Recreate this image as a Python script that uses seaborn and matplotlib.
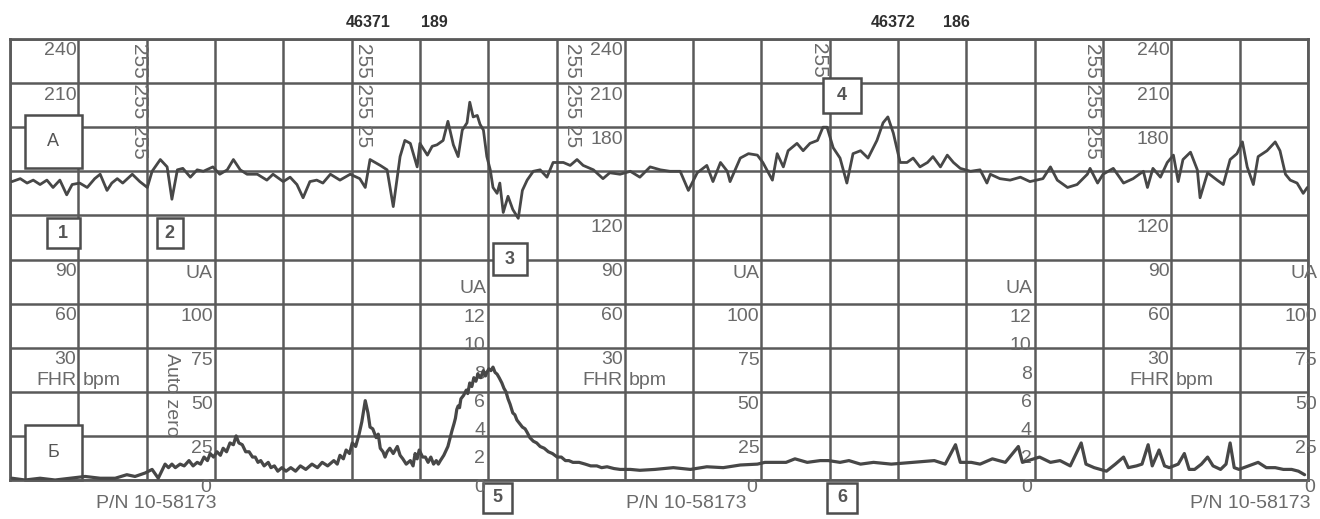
import numpy as np
import pandas as pd
import matplotlib
matplotlib.use("Agg")
import matplotlib.pyplot as plt
from matplotlib.patches import Rectangle
from matplotlib.transforms import offset_copy
import seaborn as sns

# ---------------- data ----------------
# time in chart columns (1 column = 1 min)
fhr_time = [0.03, 0.15, 0.25, 0.34, 0.44, 0.54, 0.63, 0.73, 0.83, 0.91, 1.02, 1.13, 1.24, 1.32, 1.42,
            1.49, 1.57, 1.65, 1.79, 1.90, 2.01, 2.08, 2.20, 2.30, 2.37, 2.45, 2.53, 2.64, 2.74, 2.83,
            2.97, 3.07, 3.18, 3.27, 3.37, 3.47, 3.62, 3.76, 3.85, 4.00, 4.10, 4.20, 4.29, 4.39, 4.49,
            4.58, 4.69, 4.83, 4.98, 5.12, 5.20, 5.27, 5.42, 5.52, 5.61, 5.71, 5.78, 5.86, 5.96, 6.00,
            6.11, 6.18, 6.25, 6.34, 6.41, 6.49, 6.56, 6.62, 6.69, 6.73, 6.78, 6.84, 6.88, 6.93, 6.98,
            7.03, 7.07, 7.13, 7.17, 7.22, 7.29, 7.36, 7.44, 7.50, 7.57, 7.66, 7.76, 7.86, 7.95, 8.10,
            8.20, 8.30, 8.39, 8.54, 8.68, 8.78, 8.93, 9.08, 9.22, 9.37, 9.52, 9.66, 9.81, 9.93, 10.06,
            10.20, 10.29, 10.40, 10.50, 10.54, 10.69, 10.81, 10.94, 11.02, 11.16, 11.23, 11.32, 11.39,
            11.52, 11.61, 11.71, 11.82, 11.90, 11.96, 12.05, 12.15, 12.25, 12.34, 12.45, 12.56, 12.69,
            12.78, 12.85, 12.93, 13.03, 13.13, 13.22, 13.32, 13.43, 13.51, 13.62, 13.72, 13.81, 13.91,
            14.06, 14.20, 14.30, 14.35, 14.49, 14.64, 14.79, 14.93, 15.12, 15.23, 15.33, 15.48, 15.62,
            15.77, 15.81, 15.92, 16.00, 16.15, 16.30, 16.44, 16.59, 16.65, 16.73, 16.84, 16.94, 17.03,
            17.10, 17.17, 17.28, 17.38, 17.42, 17.53, 17.67, 17.76, 17.86, 17.96, 18.04, 18.11, 18.20,
            18.27, 18.40, 18.52, 18.59, 18.67, 18.74, 18.84, 18.93, 18.99]
fhr_bpm = [143, 145, 142, 144, 141, 144, 139, 144, 134, 141, 142, 139, 145, 148, 137,
           142, 145, 142, 148, 143, 139, 150, 158, 153, 131, 151, 152, 146, 151, 150,
           153, 148, 151, 158, 151, 148, 148, 144, 148, 143, 146, 141, 132, 143, 144,
           142, 148, 144, 148, 145, 139, 158, 154, 151, 126, 160, 171, 169, 153, 169,
           161, 167, 168, 171, 184, 168, 160, 178, 183, 197, 187, 188, 182, 178, 160,
           151, 139, 135, 142, 122, 133, 124, 118, 137, 144, 150, 151, 146, 156, 156,
           154, 158, 154, 151, 145, 149, 148, 150, 146, 153, 151, 150, 150, 137, 149,
           154, 143, 156, 150, 143, 159, 162, 161, 156, 144, 162, 153, 164,
           169, 164, 169, 171, 180, 180, 166, 159, 142, 162, 164, 159, 171,
           183, 187, 176, 156, 156, 159, 153, 156, 160, 153, 161, 156, 152,
           150, 151, 142, 148, 145, 144, 146, 143, 145, 153, 144, 139, 141,
           148, 152, 142, 148, 152, 142, 145, 150, 139, 152, 146, 156, 161,
           143, 158, 163, 151, 132, 149, 144, 141, 158, 162, 170, 153, 141,
           160, 164, 170, 164, 148, 144, 142, 135, 139]

ua_time = [0.03, 0.22, 0.44, 0.66, 0.88, 1.10, 1.32, 1.54, 1.71, 1.83, 1.98, 2.08, 2.17,
           2.27, 2.32, 2.37, 2.42, 2.49, 2.55, 2.62, 2.68, 2.74, 2.79, 2.84, 2.89, 2.93, 2.98,
           3.03, 3.08, 3.12, 3.17, 3.22, 3.27, 3.31, 3.35, 3.40, 3.45, 3.50, 3.55, 3.59, 3.63,
           3.67, 3.72, 3.78, 3.82, 3.87, 3.92, 3.98, 4.04, 4.11, 4.18, 4.25, 4.33, 4.42, 4.50,
           4.57, 4.65, 4.74, 4.79, 4.83, 4.88, 4.92, 4.97, 5.01, 5.06, 5.11, 5.15, 5.20, 5.24,
           5.27, 5.31, 5.36, 5.39, 5.42, 5.46, 5.49, 5.52, 5.56, 5.61, 5.67, 5.71, 5.75, 5.80,
           5.86, 5.90, 5.93, 5.96, 5.99, 6.04, 6.08, 6.12, 6.16, 6.20, 6.24, 6.27, 6.30, 6.35,
           6.41, 6.47, 6.50, 6.52, 6.54, 6.56, 6.58, 6.60, 6.64, 6.68, 6.70, 6.73, 6.76, 6.79,
           6.82, 6.85, 6.89, 6.93, 6.96, 6.98, 7.01, 7.04, 7.07, 7.10, 7.13, 7.16, 7.20, 7.23,
           7.26, 7.29, 7.32, 7.36, 7.39, 7.42, 7.46, 7.50, 7.54, 7.57, 7.61, 7.66, 7.71, 7.76,
           7.82, 7.88, 7.94, 8.01, 8.07, 8.13, 8.18, 8.24, 8.33, 8.42, 8.50, 8.59, 8.66, 8.74,
           8.84, 8.93, 9.08, 9.22,
           9.44, 9.71, 9.96, 10.20, 10.44, 10.69, 10.94, 11.05, 11.17, 11.36, 11.49, 11.67, 11.86,
           11.98, 12.15, 12.28, 12.45, 12.64, 12.90, 13.21, 13.53, 13.69, 13.84, 13.91, 14.07, 14.20,
           14.38, 14.57, 14.76, 14.82, 15.07, 15.23, 15.37, 15.52, 15.68, 15.75, 15.87, 16.05, 16.18,
           16.30, 16.37, 16.49, 16.57, 16.66, 16.72, 16.82, 16.90, 16.97, 17.10, 17.19, 17.26, 17.34,
           17.44, 17.53, 17.61, 17.72, 17.80, 17.86, 17.92, 17.99, 18.13, 18.27, 18.39, 18.52, 18.64,
           18.76, 18.86, 18.95]
ua_value = [1, 0, 1, 0, 1, 2, 1, 1, 3, 2, 4, 6, 1,
            9, 7, 9, 7, 9, 8, 11, 8, 10, 9, 13, 11, 15, 13,
            16, 14, 18, 16, 21, 20, 25, 21, 20, 16, 16, 13, 13, 10,
            11, 8, 10, 7, 8, 5, 7, 5, 7, 5, 8, 6, 9, 7,
            10, 8, 11, 9, 14, 12, 17, 15, 21, 19, 26, 33, 45, 38,
            30, 29, 24, 26, 18, 16, 13, 16, 18, 15, 19, 14, 12, 9,
            11, 8, 15, 12, 17, 13, 13, 10, 13, 9, 11, 9, 11, 14,
            19, 28, 32, 35, 40, 42, 41, 46, 48, 51, 49, 55, 53, 58,
            56, 60, 58, 62, 59, 61, 63, 62, 64, 61, 60, 58, 55, 52,
            50, 46, 43, 38, 37, 34, 32, 30, 29, 27, 24, 22, 21, 19,
            18, 16, 15, 13, 13, 11, 11, 10, 10, 9, 8, 8, 7, 7.5,
            6.5, 6, 6, 5.5,
            6, 7, 6, 7.5, 7, 8.5, 9, 10, 10, 10, 12, 10, 11,
            11, 10, 11, 9, 10, 9, 10, 11, 9, 20, 10, 10, 9,
            12, 10, 19, 10, 13, 10, 11, 8, 21, 9, 7, 5, 9,
            13, 7, 8, 9, 20, 8, 17, 8, 7, 9, 15, 6, 6,
            9, 13, 8, 6, 9, 21, 7, 6, 8, 10, 7, 7, 6,
            6, 5, 3]

fhr_scale = [240, 210, 180, 120, 90, 60, 30]
fhr_scale_left = [240, 210, 90, 60, 30]
fhr_label_cols = [9, 17]
ua_scale = [100, 75, 50, 25]
ua_label_cols = [3, 11, 19]
kpa_scale = [12, 10, 8, 6, 4, 2, 0]
kpa_label_cols = [7, 15]
marker_texts = ["46371", "189", "46372", "186"]
marker_time = [5.24, 6.21, 12.93, 13.85]
pn_text = "P/N 10-58173"
pn_time = [2.14, 9.90, 18.15]
code_text = ["255 255 255", "255 255 25", "255 255 25", "255", "255 255 255"]
code_time = [1.90, 5.17, 8.23, 11.83, 15.84]

# ---------------- style ----------------
sns.set_style("white")
plt.rcParams['font.family'] = ['Liberation Sans', 'DejaVu Sans']

GRID = '#5a5a5a'
TRACE = '#474747'
LABEL = '#6a6a6a'
BOX = '#4d4d4d'

fig = plt.figure(figsize=(13.2, 5.19), dpi=100)
ax = fig.add_axes([10 / 1320, 39 / 519, 1298 / 1320, 441 / 519])
ax.set_xlim(0, 19)
ax.set_ylim(-60, 240)
ax.set_xticks(np.arange(0, 20))
ax.set_yticks(np.arange(-60, 241, 30))
ax.grid(True, color=GRID, lw=1.8)
ax.tick_params(length=0, labelbottom=False, labelleft=False)
for s in ax.spines.values():
    s.set_visible(True)
    s.set_color(GRID)
    s.set_linewidth(2.0)

ax2 = ax.twinx()
ax2.set_ylim(0, 250)
ax2.set_axis_off()

df_fhr = pd.DataFrame({'t': fhr_time, 'bpm': fhr_bpm})
df_ua = pd.DataFrame({'t': ua_time, 'ua': ua_value})


def off(a, dx, dy):
    return offset_copy(a.transData, fig=fig, x=dx, y=dy, units='dots')


FS = 14

# FHR scale labels
for v in fhr_scale_left:
    ax.text(1, v, str(v), transform=off(ax, -2, -12), ha='right', va='center', fontsize=FS, color=LABEL)
for c in fhr_label_cols:
    for v in fhr_scale:
        ax.text(c, v, str(v), transform=off(ax, -2, -12), ha='right', va='center', fontsize=FS, color=LABEL)
for c in [1] + fhr_label_cols:
    ax.text(c, 30, 'FHR', transform=off(ax, -2, -33), ha='right', va='center', fontsize=FS, color=LABEL)
    ax.text(c, 30, 'bpm', transform=off(ax, 4, -33), ha='left', va='center', fontsize=FS, color=LABEL)

# UA scale labels (mmHg)
for c in ua_label_cols:
    dx = 9 if c == 19 else -2
    ax2.text(c, 100, 'UA', transform=off(ax2, dx, 30), ha='right', va='center', fontsize=FS, color=LABEL)
    for v in ua_scale:
        ax2.text(c, v, str(v), transform=off(ax2, dx, -13), ha='right', va='center', fontsize=FS, color=LABEL)
    ax2.text(c, 0, '0', transform=off(ax2, dx - 2, -8), ha='right', va='center', fontsize=FS, color=LABEL)

# UA scale labels (kPa)
for c in kpa_label_cols:
    ax2.text(c, 100, 'UA', transform=off(ax2, -2, 15), ha='right', va='center', fontsize=FS, color=LABEL)
    for v in kpa_scale:
        ax2.text(c, v * 8, str(v), transform=off(ax2, -3, -7), ha='right', va='center', fontsize=FS, color=LABEL)

# vertical texts
for s, t in zip(code_text, code_time):
    ax.text(t, 240, s, transform=off(ax, 0, -4), rotation=-90, ha='center', va='top',
            fontsize=15, color=LABEL)
ax.text(2.36, -2, 'Auto zero', rotation=-90, ha='center', va='center', fontsize=FS, color=LABEL)

# top markers
for s, t in zip(marker_texts, marker_time):
    ax.text(t, 251, s, ha='center', va='center', fontsize=11.5, fontweight='bold', color='#2e2e2e',
            clip_on=False)

# P/N labels
for t in pn_time:
    ax.text(t, -76, pn_text, ha='center', va='center', fontsize=FS, color=LABEL, clip_on=False)

# boxed annotations
boxes = [
    ('A', 0.22, 152.2, 0.83, 36.1, 13, 'normal'),
    ('Б', 0.22, -60, 0.83, 37.4, 13, 'normal'),
    ('1', 0.54, 97.8, 0.48, 20.4, 13, 'bold'),
    ('2', 2.15, 97.8, 0.38, 20.4, 13, 'bold'),
    ('3', 7.07, 79.4, 0.50, 21.8, 13, 'bold'),
    ('4', 11.90, 189.7, 0.55, 23.8, 13, 'bold'),
    ('5', 6.93, -82.4, 0.42, 20.4, 13, 'bold'),
    ('6', 11.96, -82.4, 0.44, 20.4, 13, 'bold'),
]
for s, x0, y0, w, h, fs, fw in boxes:
    r = Rectangle((x0, y0), w, h, facecolor='white', edgecolor=BOX, lw=1.8, zorder=2, clip_on=False)
    ax.add_patch(r)
    ax.text(x0 + w / 2, y0 + h / 2, s, ha='center', va='center', fontsize=fs, fontweight=fw,
            color='#555555', zorder=3, clip_on=False)

# traces
sns.lineplot(data=df_fhr, x='t', y='bpm', ax=ax, color=TRACE, lw=2.0, estimator=None, zorder=4)
sns.lineplot(data=df_ua, x='t', y='ua', ax=ax2, color=TRACE, lw=2.3, estimator=None, zorder=4)
ax.set_xlabel('')
ax.set_ylabel('')
ax2.set_xlim(0, 19)
ax2.set_ylim(0, 250)

fig.savefig('out.png', dpi=100, facecolor='white')
